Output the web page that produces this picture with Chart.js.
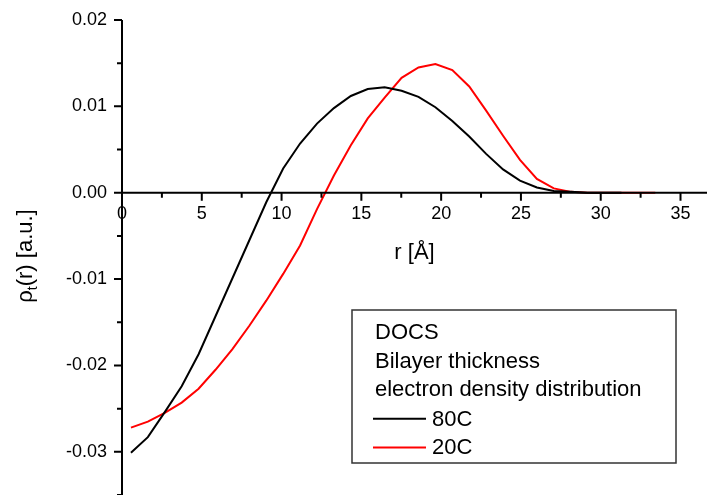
<!DOCTYPE html>
<html>
<head>
<meta charset="utf-8">
<script src="https://cdn.jsdelivr.net/npm/chart.js@4.4.1/dist/chart.umd.min.js"></script>
<style>
  html, body { margin: 0; padding: 0; background: #fff; }
  #wrap { width: 707px; height: 495px; }
</style>
</head>
<body>
<div id="wrap"><canvas id="rhoChart" width="707" height="495"></canvas></div>
<script>
// r in Angstrom (sampling of the profile)
const rValues = [0.56, 1.62, 2.68, 3.74, 4.80, 5.86, 6.92, 7.98, 9.04, 10.10,
                 11.16, 12.22, 13.28, 14.34, 15.40, 16.46, 17.52, 18.58, 19.64, 20.70,
                 21.76, 22.82, 23.88, 24.94, 26.00, 27.06, 28.12, 29.18, 30.24, 31.30,
                 32.36, 33.42];

// 80C profile (ends at 31.3 A)
const rho80C = [-0.0301, -0.0283, -0.0254, -0.0224, -0.0187, -0.0143, -0.0099, -0.0055, -0.0011, 0.0028,
                0.0057, 0.0080, 0.0098, 0.0112, 0.0120, 0.0122, 0.0118, 0.0111, 0.0099, 0.0083,
                0.0065, 0.0045, 0.0027, 0.0014, 0.0006, 0.0002, 0.0001, 0.0000, 0.0000, 0.0000];

// 20C profile
const rho20C = [-0.0272, -0.0265, -0.0255, -0.0243, -0.0227, -0.0205, -0.0181, -0.0154, -0.0125, -0.0094,
                -0.0061, -0.0019, 0.0020, 0.0055, 0.0086, 0.0110, 0.0133, 0.0145, 0.0149, 0.0142,
                0.0123, 0.0095, 0.0066, 0.0038, 0.0016, 0.0005, 0.0001, 0.0000, 0.0000, 0.0000,
                0.0000, 0.0000];

const legendHeader = ['DOCS', 'Bilayer thickness', 'electron density distribution'];
const xTitle = 'r [\u00C5]';
const FONT = '"Liberation Sans", Arial, sans-serif';

function toPoints(ys) {
    return ys.map((v, i) => ({ x: rValues[i], y: v }));
}

function isMajor(v, step) {
    return Math.abs(v / step - Math.round(v / step)) < 1e-6;
}

// Axis lines, tick marks, titles and the boxed legend
const decorations = {
    id: 'decorations',
    afterDatasetsDraw(chart) {
        const ctx = chart.ctx;
        const xs = chart.scales.x;
        const ys = chart.scales.y;
        const x0 = xs.getPixelForValue(0);
        const y0 = ys.getPixelForValue(0);

        ctx.save();
        ctx.strokeStyle = '#000';
        ctx.lineWidth = 2;
        ctx.beginPath();
        // axis lines
        ctx.moveTo(x0, ys.top);
        ctx.lineTo(x0, ys.bottom);
        ctx.moveTo(xs.left, y0);
        ctx.lineTo(xs.right, y0);
        // ticks
        xs.ticks.forEach(t => {
            const px = xs.getPixelForValue(t.value);
            const len = isMajor(t.value, 5) ? 8 : 5;
            ctx.moveTo(px, y0);
            ctx.lineTo(px, y0 + len);
        });
        ys.ticks.forEach(t => {
            const py = ys.getPixelForValue(t.value);
            const len = isMajor(t.value, 0.01) ? 8 : 5;
            ctx.moveTo(x0, py);
            ctx.lineTo(x0 - len, py);
        });
        ctx.stroke();

        // x title
        ctx.fillStyle = '#000';
        ctx.font = '22px ' + FONT;
        ctx.textAlign = 'center';
        ctx.textBaseline = 'middle';
        ctx.fillText(xTitle, (xs.left + xs.right) / 2, 253);

        // y title with subscript t
        ctx.save();
        ctx.translate(26, 256);
        ctx.rotate(-Math.PI / 2);
        ctx.textAlign = 'left';
        ctx.textBaseline = 'middle';
        const big = '22px ' + FONT, small = '14px ' + FONT;
        ctx.font = big;
        const w1 = ctx.measureText('\u03C1').width;
        const w3 = ctx.measureText('(r) [a.u.]').width;
        ctx.font = small;
        const w2 = ctx.measureText('t').width;
        let x = -(w1 + w2 + w3) / 2;
        ctx.font = big;
        ctx.fillText('\u03C1', x, 0);
        x += w1;
        ctx.font = small;
        ctx.fillText('t', x, 7);
        x += w2;
        ctx.font = big;
        ctx.fillText('(r) [a.u.]', x, 0);
        ctx.restore();

        // legend box
        ctx.lineWidth = 1.5;
        ctx.strokeStyle = '#333';
        ctx.fillStyle = '#fff';
        ctx.fillRect(352, 310, 324, 153);
        ctx.strokeRect(352, 310, 324, 153);
        ctx.fillStyle = '#000';
        ctx.font = '22px ' + FONT;
        ctx.textAlign = 'left';
        ctx.textBaseline = 'middle';
        let ly = 333;
        legendHeader.forEach(line => {
            ctx.fillText(line, 375, ly);
            ly += 28.6;
        });
        chart.data.datasets.forEach(ds => {
            ctx.strokeStyle = ds.borderColor;
            ctx.lineWidth = 2;
            ctx.beginPath();
            ctx.moveTo(373, ly);
            ctx.lineTo(426, ly);
            ctx.stroke();
            ctx.fillStyle = '#000';
            ctx.fillText(ds.label, 432, ly + 1);
            ly += 28.6;
        });
        ctx.restore();
    }
};

new Chart(document.getElementById('rhoChart'), {
    type: 'line',
    data: {
        datasets: [
            { label: '80C', data: toPoints(rho80C), borderColor: '#000000', borderWidth: 2, pointRadius: 0, tension: 0, fill: false },
            { label: '20C', data: toPoints(rho20C), borderColor: '#ff0000', borderWidth: 2, pointRadius: 0, tension: 0, fill: false }
        ]
    },
    options: {
        responsive: false,
        animation: false,
        layout: { padding: { left: 0, right: 0, top: 20, bottom: 0 } },
        plugins: {
            legend: { display: false },
            tooltip: { enabled: false }
        },
        scales: {
            x: {
                type: 'linear',
                position: { y: 0 },
                min: 0,
                max: 36.66,
                afterFit: (scale) => {
                    scale.height = 0;
                    scale.paddingLeft = 0;
                    scale.paddingRight = 0;
                    scale.paddingTop = 0;
                    scale.paddingBottom = 0;
                },
                grid: { display: false, drawTicks: true, tickLength: 8 },
                border: { display: false },
                ticks: {
                    stepSize: 2.5,
                    includeBounds: false,
                    autoSkip: false,
                    maxRotation: 0,
                    padding: 3,
                    color: '#000',
                    font: { family: FONT, size: 18 },
                    callback: (v) => isMajor(v, 5) ? String(Math.round(v)) : ''
                }
            },
            y: {
                type: 'linear',
                position: 'left',
                min: -0.035,
                max: 0.02,
                afterFit: (scale) => {
                    scale.width = 122;
                    scale.paddingTop = 0;
                    scale.paddingBottom = 0;
                },
                grid: { display: false, drawTicks: true, tickLength: 8 },
                border: { display: false },
                ticks: {
                    stepSize: 0.005,
                    includeBounds: false,
                    autoSkip: false,
                    padding: 7,
                    color: '#000',
                    font: { family: FONT, size: 18 },
                    callback: (v) => isMajor(v, 0.01) ? (Math.abs(v) < 1e-9 ? '0.00' : v.toFixed(2)) : ''
                }
            }
        }
    },
    plugins: [decorations]
});
</script>
</body>
</html>
